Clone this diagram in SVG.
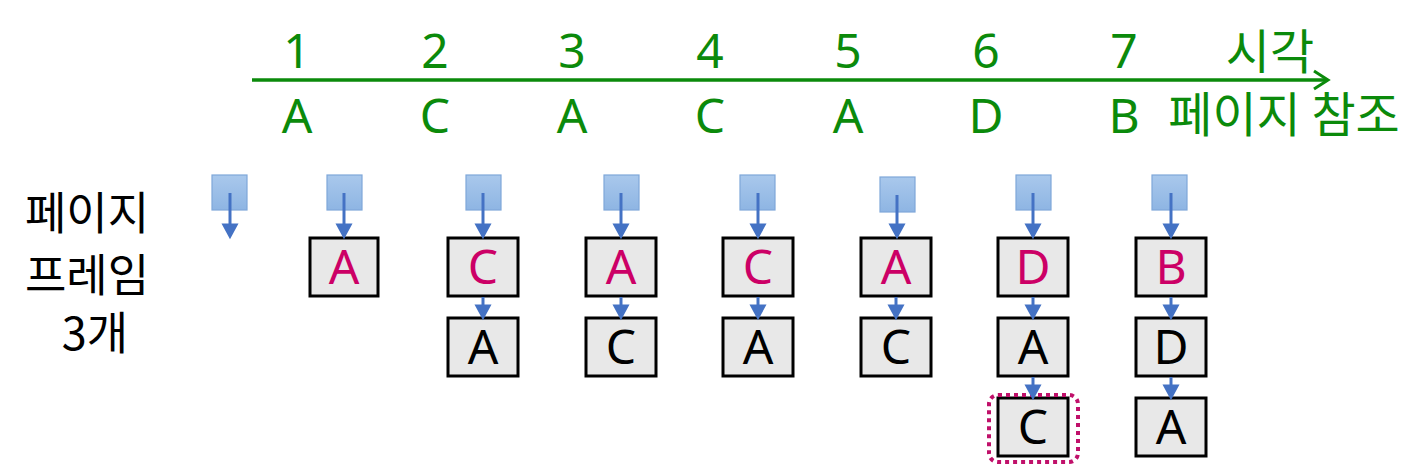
<svg xmlns="http://www.w3.org/2000/svg" width="1416" height="472" viewBox="0 0 1416 472">
<style>
.g{fill:#0B8A0B;font-family:"Noto Sans","Noto Sans CJK KR",sans-serif;font-size:48px;text-anchor:middle}
.k{font-family:"Noto Sans CJK KR","Noto Sans",sans-serif}
.lab{fill:#000;font-family:"Noto Sans CJK KR",sans-serif;font-size:45px;text-anchor:middle}
.box{fill:#E8E8E8;stroke:#000;stroke-width:3}
.bt{font-family:"Noto Sans","Noto Sans CJK KR",sans-serif;font-size:48px;text-anchor:middle}
.new{fill:#CC0066}
.old{fill:#000}
.sq{fill:url(#bg);stroke:#7FA7D9;stroke-width:1.2}
</style>
<defs>
<linearGradient id="bg" x1="0" y1="0" x2="0" y2="1">
<stop offset="0" stop-color="#A9C8EC"/>
<stop offset="1" stop-color="#8EB5E3"/>
</linearGradient>
<path id="hd" d="M-6,-11 L6,-11 L0,0 Z" fill="#4472C4"/>
</defs>

<g id="timeline">
<line x1="252" y1="80" x2="1326" y2="80" stroke="#0B8A0B" stroke-width="3.5"/>
<polyline points="1314,71 1328,80 1314,89" fill="none" stroke="#0B8A0B" stroke-width="3"/>
<text class="g" x="297" y="68">1</text>
<text class="g" x="435" y="68">2</text>
<text class="g" x="572" y="68">3</text>
<text class="g" x="710" y="68">4</text>
<text class="g" x="848" y="68">5</text>
<text class="g" x="986" y="68">6</text>
<text class="g" x="1124" y="68">7</text>
<text class="g k" x="1270" y="69" font-size="45">시각</text>
<text class="g" x="297" y="133">A</text>
<text class="g" x="435" y="133">C</text>
<text class="g" x="572" y="133">A</text>
<text class="g" x="710" y="133">C</text>
<text class="g" x="848" y="133">A</text>
<text class="g" x="986" y="133">D</text>
<text class="g" x="1124" y="133">B</text>
<text class="g k" x="1284" y="132" font-size="43">페이지 참조</text>
</g>

<g id="label">
<text class="lab" x="87" y="230">페이지</text>
<text class="lab" x="87" y="292">프레임</text>
<text class="lab" x="95" y="350">3개</text>
</g>

<g id="t1">
<rect class="sq" x="212" y="175" width="35" height="35"/>
</g>
<g id="t2">
<rect class="sq" x="327" y="175" width="35" height="35"/>
<rect class="box" x="310" y="238" width="68" height="58"/>
<text class="bt new" x="344" y="284">A</text>
</g>
<g id="t3">
<rect class="sq" x="466" y="175" width="35" height="35"/>
<rect class="box" x="448" y="238" width="70" height="58"/>
<text class="bt new" x="483" y="284">C</text>
<rect class="box" x="448" y="318" width="70" height="58"/>
<text class="bt old" x="483" y="364">A</text>
</g>
<g id="t4">
<rect class="sq" x="604" y="175" width="35" height="35"/>
<rect class="box" x="586" y="238" width="70" height="58"/>
<text class="bt new" x="621" y="284">A</text>
<rect class="box" x="586" y="318" width="70" height="58"/>
<text class="bt old" x="621" y="364">C</text>
</g>
<g id="t5">
<rect class="sq" x="740" y="175" width="35" height="35"/>
<rect class="box" x="723" y="238" width="70" height="58"/>
<text class="bt new" x="758" y="284">C</text>
<rect class="box" x="723" y="318" width="70" height="58"/>
<text class="bt old" x="758" y="364">A</text>
</g>
<g id="t6">
<rect class="sq" x="880" y="177" width="35" height="35"/>
<rect class="box" x="861" y="238" width="70" height="58"/>
<text class="bt new" x="896" y="284">A</text>
<rect class="box" x="861" y="318" width="70" height="58"/>
<text class="bt old" x="896" y="364">C</text>
</g>
<g id="t7">
<rect class="sq" x="1016" y="175" width="35" height="35"/>
<rect class="box" x="998" y="238" width="70" height="58"/>
<text class="bt new" x="1033" y="284">D</text>
<rect class="box" x="998" y="318" width="70" height="58"/>
<text class="bt old" x="1033" y="364">A</text>
<rect class="box" x="998" y="398" width="70" height="58"/>
<text class="bt old" x="1033" y="444">C</text>
<rect x="989" y="395" width="89" height="67" rx="9" fill="none" stroke="#C0106A" stroke-width="4" stroke-dasharray="4 4"/>
</g>
<g id="t8">
<rect class="sq" x="1152" y="175" width="35" height="35"/>
<rect class="box" x="1136" y="238" width="70" height="58"/>
<text class="bt new" x="1171" y="284">B</text>
<rect class="box" x="1136" y="318" width="70" height="58"/>
<text class="bt old" x="1171" y="364">D</text>
<rect class="box" x="1136" y="398" width="70" height="58"/>
<text class="bt old" x="1171" y="444">A</text>
</g>

<g id="connectors" stroke="#4472C4" stroke-width="3" fill="none">
<line x1="230" y1="193" x2="230" y2="226"/><use href="#hd" x="230" y="236"/>
<line x1="344" y1="193" x2="344" y2="226"/><use href="#hd" x="344" y="236"/>
<line x1="483" y1="193" x2="483" y2="226"/><use href="#hd" x="483" y="236"/>
<line x1="621" y1="193" x2="621" y2="226"/><use href="#hd" x="621" y="236"/>
<line x1="758" y1="193" x2="758" y2="226"/><use href="#hd" x="758" y="236"/>
<line x1="897" y1="195" x2="897" y2="226"/><use href="#hd" x="897" y="236"/>
<line x1="1033" y1="193" x2="1033" y2="226"/><use href="#hd" x="1033" y="236"/>
<line x1="1171" y1="193" x2="1171" y2="226"/><use href="#hd" x="1171" y="236"/>
<line x1="483" y1="297" x2="483" y2="307"/><use href="#hd" x="483" y="317"/>
<line x1="621" y1="297" x2="621" y2="307"/><use href="#hd" x="621" y="317"/>
<line x1="758" y1="297" x2="758" y2="307"/><use href="#hd" x="758" y="317"/>
<line x1="896" y1="297" x2="896" y2="307"/><use href="#hd" x="896" y="317"/>
<line x1="1033" y1="297" x2="1033" y2="307"/><use href="#hd" x="1033" y="317"/>
<line x1="1171" y1="297" x2="1171" y2="307"/><use href="#hd" x="1171" y="317"/>
<line x1="1033" y1="377" x2="1033" y2="387"/><use href="#hd" x="1033" y="397"/>
<line x1="1171" y1="377" x2="1171" y2="387"/><use href="#hd" x="1171" y="397"/>
</g>
</svg>
